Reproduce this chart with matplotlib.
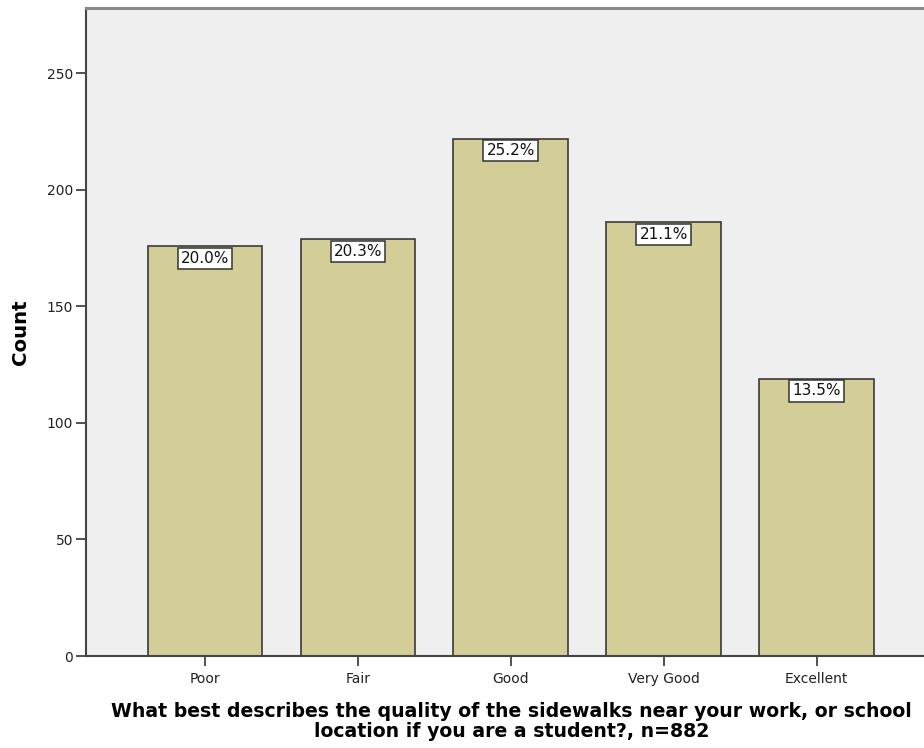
import matplotlib
matplotlib.use("Agg")
import matplotlib.pyplot as plt

categories = ["Poor", "Fair", "Good", "Very Good", "Excellent"]
counts = [176, 179, 222, 186, 119]
pct_labels = ["20.0%", "20.3%", "25.2%", "21.1%", "13.5%"]
yticks = [0, 50, 100, 150, 200, 250]

plt.rcParams['font.family'] = ['DejaVu Sans']

fig = plt.figure(figsize=(9.24, 7.48), dpi=100)
ax = fig.add_axes([86/924, 92/748, 851/924, 648/748])
ax.set_facecolor('#efefef')

x = list(range(len(categories)))
ax.bar(x, counts, width=0.749, color='#d3ce97', edgecolor='#3a3a3a', linewidth=1.2, zorder=2)

for xi, c, lab in zip(x, counts, pct_labels):
    ax.annotate(lab, (xi, c), xytext=(0, -3.5), textcoords='offset points',
                ha='center', va='top', fontsize=11, color='#111111',
                bbox=dict(boxstyle='square,pad=0.2', fc='white', ec='#333333', lw=1.1),
                zorder=3)

ax.set_xlim(-0.778, 4.788)
ax.set_ylim(0, 278)
ax.set_xticks(x)
ax.set_xticklabels(categories, fontsize=10, color='#222222')
ax.set_yticks(yticks)
ax.set_yticklabels([str(v) for v in yticks], fontsize=10, color='#222222')
ax.tick_params(axis='both', direction='out', length=7.2, width=1.2, color='#333333')
ax.tick_params(axis='x', pad=4)
ax.tick_params(axis='y', pad=2)

for s in ['left', 'bottom']:
    ax.spines[s].set_color('#444444')
    ax.spines[s].set_linewidth(1.5)
ax.spines['top'].set_color('#888888')
ax.spines['top'].set_linewidth(2.2)
ax.spines['right'].set_visible(False)

ax.set_ylabel('Count', fontsize=14.2, fontweight='bold', labelpad=12)
ax.set_xlabel('What best describes the quality of the sidewalks near your work, or school\nlocation if you are a student?, n=882',
              fontsize=13.6, fontweight='bold', linespacing=1.05, labelpad=12)

fig.savefig('out.png', dpi=100)
